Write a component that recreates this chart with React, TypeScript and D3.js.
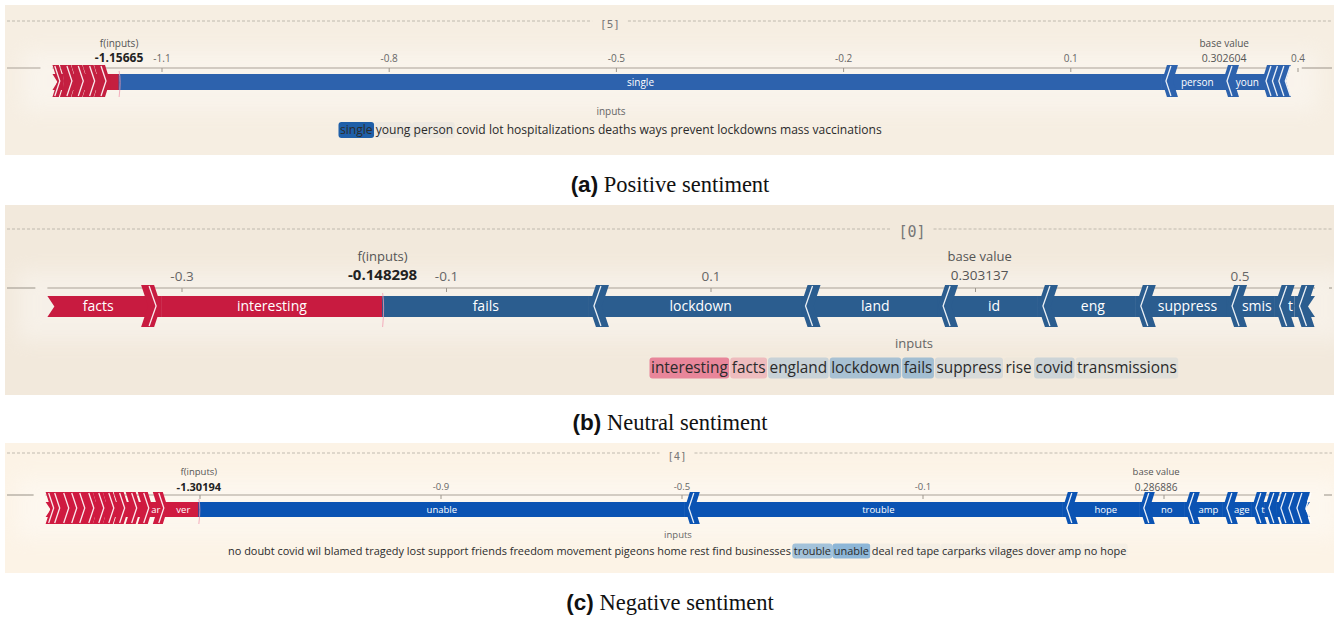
import React, { useEffect } from 'react';
import * as d3 from 'd3';

// ---------- Panel (a) Positive sentiment ----------
const aTicks = [-1.1, -0.8, -0.5, -0.2, 0.1, 0.4];
const aOutput = -1.15665;
const aBase = 0.302604;
const aIndex = '[5]';
const aRedNames = ['covid', 'lot', 'deaths', 'ways', 'prevent', 'mass'];
const aRedValues = [0.012, 0.015, 0.015, 0.015, 0.016, 0.015];
const aBlueNames = ['single', 'person', 'youn', 'g', 'izations', 'downs', 'ations'];
const aBlueValues = [1.377, 0.0806, 0.0515, 0.0085, 0.0085, 0.0085, 0.0085];
const aWords = ['single', 'young', 'person', 'covid', 'lot', 'hospitalizations', 'deaths', 'ways', 'prevent', 'lockdowns', 'mass', 'vaccinations'];
const aWordWeights = [-1, -0.04, -0.04, 0, 0, 0, 0, 0, 0, 0, 0, 0];
const aCaption = ['(a)', 'Positive sentiment'];

// ---------- Panel (b) Neutral sentiment ----------
const bTicks = [-0.3, -0.1, 0.1, 0.3, 0.5];
const bOutput = -0.148298;
const bBase = 0.303137;
const bIndex = '[0]';
const bRedNames = ['interesting', 'facts'];
const bRedValues = [0.1675, 0.086];
const bBlueNames = ['fails', 'lockdown', 'land', 'id', 'eng', 'suppress', 'smis', 't', 'ions'];
const bBlueValues = [0.156, 0.16, 0.104, 0.0755, 0.074, 0.069, 0.036, 0.015, 0.0155];
const bWords = ['interesting', 'facts', 'england', 'lockdown', 'fails', 'suppress', 'rise', 'covid', 'transmissions'];
const bWordWeights = [0.55, 0.25, -0.2, -0.35, -0.38, -0.13, -0.02, -0.18, -0.08];
const bCaption = ['(b)', 'Neutral sentiment'];

// ---------- Panel (c) Negative sentiment ----------
const cTicks = [-1.3, -0.9, -0.5, -0.1, 0.3];
const cOutput = -1.30194;
const cBase = 0.286886;
const cIndex = '[4]';
const cRedNames = ['ver', 'ar', 'vil', 'ages', 'pig', 'eons', 'bla', 'med', 'tra', 'gedy', 'wil', 'dou', 'bt'];
const cRedValues = [0.0515, 0.025, 0.02, 0.02, 0.018, 0.0166, 0.0166, 0.015, 0.0133, 0.0133, 0.015, 0.01, 0.02];
const cBlueNames = ['unable', 'trouble', 'hope', 'no', 'amp', 'age', 't', 'tape', 'red', 'deal', 'find', 'rest'];
const cBlueValues = [0.8066, 0.6274, 0.1278, 0.0747, 0.0631, 0.0481, 0.0216, 0.02, 0.0133, 0.0133, 0.015, 0.0133];
const cWords = 'no doubt covid wil blamed tragedy lost support friends freedom movement pigeons home rest find businesses trouble unable deal red tape carparks vilages dover amp no hope'.split(' ');
const cWordWeights = cWords.map((w, i) => (w === 'trouble' ? -0.4 : w === 'unable' ? -0.5 : i >= 18 ? -0.03 : 0));
const cCaption = ['(c)', 'Negative sentiment'];

const SANS = "'Open Sans', 'Noto Sans', sans-serif";

let ctx: CanvasRenderingContext2D | null = null;
function textW(s: string, font: string) {
  if (!ctx) ctx = document.createElement('canvas').getContext('2d');
  ctx!.font = font;
  return ctx!.measureText(s).width;
}

const layouts = {
  a: { bgY0: 5, bgY1: 155, bg: '#f6eee2', dashY: 21, idxX: 610, idxY: 24, idxSize: 11, domain: [-1.1, 0.4], range: [162, 1298],
    fLabelY: 43, fLabelSize: 10, fValY: 58, fValSize: 12, tickY: 58, tickSize: 10, axisY: 68, barTop: 74, barBot: 90, chevTop: 65, chevBot: 97,
    bandW: 16, bandD: 5, lineOff: 4, barFont: 10, inputsY: 111, inputsSize: 10, wordsY: 130, wordsW: 542, wordsX: 611, boxH: 16,
    red: '#c41f40', blue: '#2d62ad', hlBlue: '#1f5fa8', hlRed: '#e03564', capY: 184 },
  b: { bgY0: 205, bgY1: 395, bg: '#f2e9dc', dashY: 229, idxX: 912, idxY: 232, idxSize: 15, domain: [-0.3, 0.5], range: [182, 1240],
    fLabelY: 256, fLabelSize: 13, fValY: 275, fValSize: 15, tickY: 276, tickSize: 13.5, axisY: 288, barTop: 296, barBot: 317, chevTop: 285, chevBot: 327,
    bandW: 20, bandD: 7, lineOff: 5, barFont: 14, inputsY: 343, inputsSize: 13, wordsY: 368, wordsW: 526, wordsX: 914, boxH: 21,
    red: '#c81b40', blue: '#2b5d8f', hlBlue: '#1f77c2', hlRed: '#e03564', capY: 422 },
  c: { bgY0: 443, bgY1: 573, bg: '#fcf3e6', dashY: 453, idxX: 677, idxY: 456, idxSize: 10.5, domain: [-0.9, -0.1], range: [441, 923],
    fLabelY: 472, fLabelSize: 9.5, fValY: 487, fValSize: 11, tickY: 487, tickSize: 9.5, axisY: 495, barTop: 502, barBot: 517, chevTop: 492, chevBot: 524,
    bandW: 15, bandD: 5, lineOff: 4, barFont: 9.5, inputsY: 535, inputsSize: 9.5, wordsY: 551, wordsW: 900, wordsX: 678, boxH: 15,
    red: '#cf1a40', blue: '#0b53b3', hlBlue: '#1e78c8', hlRed: '#e03564', capY: 602 },
};

const BGX0 = 5;
const BGX1 = 1334;

type Cfg = {
  ticks: number[]; output: number; base: number; index: string;
  redNames: string[]; redValues: number[]; blueNames: string[]; blueValues: number[];
  words: string[]; weights: number[]; caption: string[]; L: any; id: string;
};

function Panel({ cfg }: { cfg: Cfg }) {
  const L = cfg.L;
  const x = d3.scaleLinear().domain(L.domain).range(L.range);
  const fx = x(cfg.output);
  const bx = x(cfg.base);
  const mid = (L.chevTop + L.chevBot) / 2;
  const barMid = (L.barTop + L.barBot) / 2;

  let acc = cfg.output;
  const reds = cfg.redValues.map((v, i) => {
    const x1 = x(acc); acc -= v; const x0 = x(acc);
    return { name: cfg.redNames[i], x0, x1, i };
  });
  acc = cfg.output;
  const blues = cfg.blueValues.map((v, i) => {
    const x0 = x(acc); acc += v; const x1 = x(acc);
    return { name: cfg.blueNames[i], x0, x1, i };
  });
  const redLeft = reds.length ? reds[reds.length - 1].x0 : fx;
  const blueRight = blues.length ? blues[blues.length - 1].x1 : fx;
  const w = L.bandW, d = L.bandD, t = L.lineOff;
  const top = L.chevTop, bot = L.chevBot;

  const elems: any[] = [];
  reds.forEach((s, i) => {
    if (i === reds.length - 1) {
      const pts = [[s.x0, L.barTop], [s.x1, L.barTop], [s.x1, L.barBot], [s.x0, L.barBot], [s.x0 + d, barMid]];
      elems.push(<polygon key={'rb' + i} points={pts.map(p => p.join(',')).join(' ')} fill={L.red} />);
    } else {
      elems.push(<rect key={'rb' + i} x={s.x0} y={L.barTop} width={s.x1 - s.x0 + 0.5} height={L.barBot - L.barTop} fill={L.red} />);
    }
  });
  blues.forEach((s, i) => {
    if (i === blues.length - 1) {
      const pts = [[s.x0, L.barTop], [s.x1, L.barTop], [s.x1 - d, barMid], [s.x1, L.barBot], [s.x0, L.barBot]];
      elems.push(<polygon key={'bb' + i} points={pts.map(p => p.join(',')).join(' ')} fill={L.blue} />);
    } else {
      elems.push(<rect key={'bb' + i} x={s.x0 - 0.5} y={L.barTop} width={s.x1 - s.x0 + 0.5} height={L.barBot - L.barTop} fill={L.blue} />);
    }
  });
  reds.forEach((s, i) => {
    if (i === 0) return;
    const R = s.x1;
    let Lb = R - w;
    if (i === reds.length - 1) Lb = Math.min(Math.max(s.x0, R - w), R - d - 3);
    const pts = [[Lb, top], [Lb + d, mid], [Lb, bot], [R - d, bot], [R, mid], [R - d, top]];
    elems.push(<polygon key={'rc' + i} points={pts.map(p => p.join(',')).join(' ')} fill={L.red} />);
    const lp = [[R - d - t, top + 1], [R - t, mid], [R - d - t, bot - 1]];
    elems.push(<polyline key={'rl' + i} points={lp.map(p => p.join(',')).join(' ')} fill="none" stroke="#fff" strokeWidth={1.3} strokeOpacity={0.9} />);
  });
  blues.forEach((s, i) => {
    if (i === 0) return;
    const Lb = s.x0;
    let R = Lb + w;
    if (i === blues.length - 1) R = Math.max(Math.min(s.x1, Lb + w), Lb + d + 3);
    const pts = [[Lb + d, top], [Lb, mid], [Lb + d, bot], [R, bot], [R - d, mid], [R, top]];
    elems.push(<polygon key={'bc' + i} points={pts.map(p => p.join(',')).join(' ')} fill={L.blue} />);
    const lp = [[Lb + d + t, top + 1], [Lb + t, mid], [Lb + d + t, bot - 1]];
    elems.push(<polyline key={'bl' + i} points={lp.map(p => p.join(',')).join(' ')} fill="none" stroke="#fff" strokeWidth={1.3} strokeOpacity={0.9} />);
  });
  const barFont = `${L.barFont}px ${SANS}`;
  const labels: any[] = [];
  reds.forEach((s, i) => {
    const rl = s.x0, rr = i === 0 ? s.x1 : s.x1 - 0.6 * w;
    const tw = textW(s.name, barFont);
    if (tw <= rr - rl + 5) labels.push(<text key={'rt' + i} x={(rl + rr) / 2} y={barMid} dy="0.35em" textAnchor="middle" fill="#fff" fontSize={L.barFont} fontFamily={SANS}>{s.name}</text>);
  });
  blues.forEach((s, i) => {
    const rl = i === 0 ? s.x0 : s.x0 + 0.6 * w, rr = s.x1;
    const tw = textW(s.name, barFont);
    if (tw <= rr - rl + 5) labels.push(<text key={'bt' + i} x={(rl + rr) / 2} y={barMid} dy="0.35em" textAnchor="middle" fill="#fff" fontSize={L.barFont} fontFamily={SANS}>{s.name}</text>);
  });

  const tickEls = cfg.ticks.map((tv, i) => {
    const tx = x(tv);
    const hide = Math.abs(tx - fx) < 35 || Math.abs(tx - bx) < 35;
    return (
      <g key={'tk' + i}>
        <line x1={tx} x2={tx} y1={L.axisY} y2={L.axisY + 4} stroke="#9d968c" strokeWidth={1} />
        {!hide && <text x={tx} y={L.tickY} dy="0.35em" textAnchor="middle" fontSize={L.tickSize} fill="#666" fontFamily={SANS}>{tv.toFixed(1)}</text>}
      </g>
    );
  });

  const idxW = textW(cfg.index, `${L.idxSize}px 'DejaVu Sans Mono', monospace`);
  const gap = idxW / 2 + 8;

  const text = cfg.words.join(' ');
  const m100 = textW(text, `100px ${SANS}`);
  const fs = (100 * L.wordsW) / m100;
  const font = `${fs}px ${SANS}`;
  const startX = L.wordsX - L.wordsW / 2;
  const wordEls: any[] = [];
  const boxEls: any[] = [];
  let prefix = '';
  cfg.words.forEach((wd, i) => {
    const wx = startX + textW(prefix, font);
    const ww = textW(wd, font);
    prefix += wd + ' ';
    const wt = cfg.weights[i];
    if (Math.abs(wt) > 0.01) {
      const col = d3.interpolateRgb(L.bg, wt < 0 ? L.hlBlue : L.hlRed)(Math.min(1, Math.abs(wt)));
      boxEls.push(<rect key={'wb' + i} x={wx - 1.5} y={L.wordsY - L.boxH / 2} width={ww + 3} height={L.boxH} rx={3} fill={col} />);
    }
    wordEls.push(<text key={'w' + i} x={wx} y={L.wordsY} dy="0.35em" fontSize={fs} fill="#2b2b2b" fontFamily={SANS}>{wd}</text>);
  });

  return (
    <g>
      <rect x={BGX0} y={L.bgY0} width={BGX1 - BGX0} height={L.bgY1 - L.bgY0} fill={L.bg} />
      <line x1={BGX0 + 2} x2={L.idxX - gap} y1={L.dashY} y2={L.dashY} stroke="#b3aca2" strokeDasharray="3,2" strokeWidth={0.8} />
      <line x1={L.idxX + gap} x2={BGX1 - 2} y1={L.dashY} y2={L.dashY} stroke="#b3aca2" strokeDasharray="3,2" strokeWidth={0.8} />
      <text x={L.idxX} y={L.idxY} dy="0.35em" textAnchor="middle" fontSize={L.idxSize} fill="#777" fontFamily="'DejaVu Sans Mono', monospace">{cfg.index}</text>
      <rect x={redLeft - 30} y={top - 14} width={blueRight - redLeft + 60} height={bot - top + 28} fill="#fff" opacity={0.35} filter="url(#halo)" />
      <line x1={BGX0 + 2} x2={redLeft - 12} y1={L.axisY} y2={L.axisY} stroke="#a9a298" strokeWidth={1.2} />
      <line x1={redLeft} x2={blueRight} y1={L.axisY} y2={L.axisY} stroke="#a9a298" strokeWidth={1.2} />
      <line x1={blueRight + 14} x2={BGX1 - 2} y1={L.axisY} y2={L.axisY} stroke="#a9a298" strokeWidth={1.2} />
      {tickEls}
      <text x={fx} y={L.fLabelY} dy="0.35em" textAnchor="middle" fontSize={L.fLabelSize} fill="#555" fontFamily={SANS}>f(inputs)</text>
      <text x={fx} y={L.fValY} dy="0.35em" textAnchor="middle" fontSize={L.fValSize} fontWeight="bold" fill="#222" fontFamily={SANS}>{cfg.output.toString()}</text>
      <text x={bx} y={L.fLabelY} dy="0.35em" textAnchor="middle" fontSize={L.fLabelSize} fill="#555" fontFamily={SANS}>base value</text>
      <text x={bx} y={L.fValY} dy="0.35em" textAnchor="middle" fontSize={L.fLabelSize + 0.5} fill="#555" fontFamily={SANS}>{cfg.base.toString()}</text>
      {elems}
      {labels}
      <path d={`M${fx},${L.barTop - 3} Q${fx + 2},${mid} ${fx},${bot}`} fill="none" stroke="#f29bb0" strokeWidth={1} opacity={0.8} />
      <text x={L.wordsX} y={L.inputsY} dy="0.35em" textAnchor="middle" fontSize={L.inputsSize} fill="#666" fontFamily={SANS}>inputs</text>
      {boxEls}
      {wordEls}
      <text x={670} y={L.capY} dy="0.35em" textAnchor="middle" fontSize={22.5} fill="#111">
        <tspan fontFamily="'Liberation Sans', Arial, sans-serif" fontWeight="bold">{cfg.caption[0]}</tspan>
        <tspan fontFamily="'Liberation Serif', 'Times New Roman', serif"> {cfg.caption[1]}</tspan>
      </text>
    </g>
  );
}

export default function App() {
  useEffect(() => {
    document.body.style.margin = '0';
  }, []);
  const cfgs: Cfg[] = [
    { id: 'a', ticks: aTicks, output: aOutput, base: aBase, index: aIndex, redNames: aRedNames, redValues: aRedValues, blueNames: aBlueNames, blueValues: aBlueValues, words: aWords, weights: aWordWeights, caption: aCaption, L: layouts.a },
    { id: 'b', ticks: bTicks, output: bOutput, base: bBase, index: bIndex, redNames: bRedNames, redValues: bRedValues, blueNames: bBlueNames, blueValues: bBlueValues, words: bWords, weights: bWordWeights, caption: bCaption, L: layouts.b },
    { id: 'c', ticks: cTicks, output: cOutput, base: cBase, index: cIndex, redNames: cRedNames, redValues: cRedValues, blueNames: cBlueNames, blueValues: cBlueValues, words: cWords, weights: cWordWeights, caption: cCaption, L: layouts.c },
  ];
  return (
    <svg width={1338} height={619} style={{ display: 'block', position: 'absolute', left: 0, top: 0, background: '#fff' }}>
      <defs>
        <filter id="halo" x="-20%" y="-100%" width="140%" height="300%">
          <feGaussianBlur stdDeviation="10" />
        </filter>
      </defs>
      {cfgs.map(c => <Panel key={c.id} cfg={c} />)}
    </svg>
  );
}
